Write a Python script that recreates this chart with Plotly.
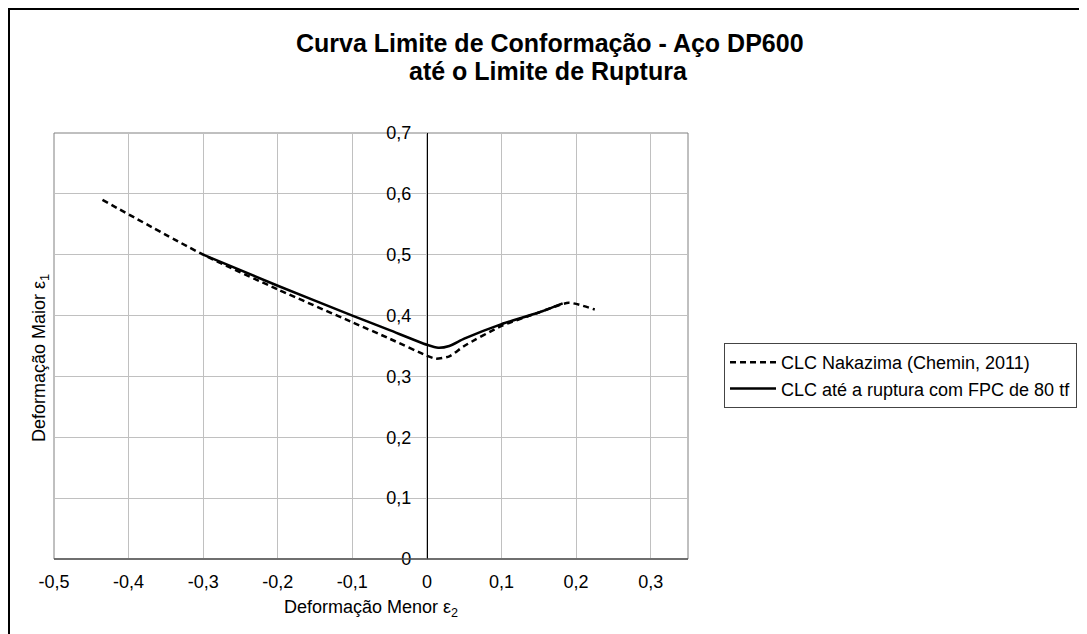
import plotly.graph_objects as go

# ---- data ----
nak_x = [-0.435, -0.3, -0.2, -0.1, -0.05, 0.0, 0.012, 0.03, 0.05, 0.1, 0.15, 0.19, 0.225]
nak_y = [0.590, 0.500, 0.443, 0.389, 0.362, 0.334, 0.329, 0.333, 0.350, 0.383, 0.405, 0.421, 0.410]

rup_x = [-0.3, -0.2, -0.1, -0.05, 0.0, 0.015, 0.03, 0.05, 0.1, 0.15, 0.182]
rup_y = [0.500, 0.449, 0.400, 0.376, 0.352, 0.347, 0.350, 0.362, 0.386, 0.405, 0.420]

series_names = ["CLC Nakazima (Chemin, 2011)", "CLC até a ruptura com FPC de 80 tf"]

xtick_vals = [-0.5, -0.4, -0.3, -0.2, -0.1, 0.0, 0.1, 0.2, 0.3]
xtick_text = ["-0,5", "-0,4", "-0,3", "-0,2", "-0,1", "0", "0,1", "0,2", "0,3"]
ytick_vals = [0, 0.1, 0.2, 0.3, 0.4, 0.5, 0.6, 0.7]
ytick_text = ["0", "0,1", "0,2", "0,3", "0,4", "0,5", "0,6", "0,7"]

title_1 = "Curva Limite de Conformação - Aço DP600"
title_2 = "até o Limite de Ruptura"
x_title = "Deformação Menor ε<sub>2</sub>"
y_title = "Deformação Maior ε<sub>1</sub>"

X_RANGE = [-0.5, 0.35]
Y_RANGE = [0, 0.7]

FONT = "Arial, 'Liberation Sans', sans-serif"

# page layout (the figure div sits 8px in from the page corner)
OFF = 8
PAGE_W, PAGE_H = 1087, 634
PL, PR, PT, PB = 54, 688, 133, 559          # plot area edges on the page
W, H = PAGE_W - OFF, PAGE_H - OFF
L, T = PL - OFF, PT - OFF
R, B = W - (PR - OFF), H - (PB - OFF)
PW, PH = PR - PL, PB - PT


def px_x(p):
    return (p - PL) / PW


def px_y(p):
    return (PB - p) / PH


fig = go.Figure()
fig.add_trace(go.Scatter(
    x=nak_x, y=nak_y, mode="lines", name=series_names[0], legendgroup="a",
    line=dict(color="black", width=2.5, dash="6px,4px", shape="spline", smoothing=0.6),
))
fig.add_trace(go.Scatter(
    x=rup_x, y=rup_y, mode="lines", name=series_names[1], legendgroup="b",
    line=dict(color="black", width=2.5, shape="spline", smoothing=0.6),
))

y_pos = (0 - X_RANGE[0]) / (X_RANGE[1] - X_RANGE[0])

fig.update_layout(
    width=W, height=H,
    margin=dict(l=L, r=R, t=T, b=B, autoexpand=False),
    paper_bgcolor="white", plot_bgcolor="white",
    font=dict(family=FONT, size=18, color="black"),
    showlegend=True,
    legend=dict(
        x=px_x(724), y=px_y(343), xanchor="left", yanchor="top",
        bordercolor="#444444", borderwidth=1, bgcolor="white",
        font=dict(family=FONT, size=18, color="black"),
        itemwidth=46, tracegroupgap=6, traceorder="normal",
    ),
    xaxis=dict(
        range=X_RANGE, tickvals=xtick_vals, ticktext=xtick_text,
        showgrid=True, gridcolor="#c0c0c0", gridwidth=1,
        zeroline=False, showline=False, ticks="", ticklabelstandoff=10,
        tickfont=dict(family=FONT, size=18, color="black"),
        fixedrange=True,
    ),
    yaxis=dict(
        range=Y_RANGE, tickvals=ytick_vals, ticktext=ytick_text,
        anchor="free", position=y_pos,
        showgrid=True, gridcolor="#c0c0c0", gridwidth=1,
        zeroline=False, showline=True, linecolor="black", linewidth=1, ticks="",
        ticklabelstandoff=12,
        tickfont=dict(family=FONT, size=18, color="black"),
        fixedrange=True,
    ),
    shapes=[
        # plot area border
        dict(type="rect", xref="paper", yref="paper", x0=0, x1=1, y0=0, y1=1,
             line=dict(color="#808080", width=1), layer="below"),
        # x axis line (y = 0)
        dict(type="line", xref="paper", yref="paper", x0=0, x1=1, y0=0, y1=0,
             line=dict(color="#555555", width=1.5)),
        # outer chart border
        dict(type="rect", xref="paper", yref="paper",
             x0=px_x(9), x1=px_x(1085), y0=px_y(700), y1=px_y(9),
             line=dict(color="black", width=2)),
    ],
    annotations=[
        dict(text="<b>" + title_1 + "</b>", xref="paper", yref="paper",
             x=px_x(550), y=px_y(43), xanchor="center", yanchor="middle",
             showarrow=False, font=dict(family=FONT, size=25, color="black")),
        dict(text="<b>" + title_2 + "</b>", xref="paper", yref="paper",
             x=px_x(548), y=px_y(71), xanchor="center", yanchor="middle",
             showarrow=False, font=dict(family=FONT, size=25, color="black")),
        dict(text=x_title, xref="paper", yref="paper",
             x=px_x(371), y=px_y(608), xanchor="center", yanchor="middle",
             showarrow=False, font=dict(family=FONT, size=18, color="black")),
        dict(text=y_title, xref="paper", yref="paper", textangle=-90,
             x=px_x(40), y=px_y(358), xanchor="center", yanchor="middle",
             showarrow=False, font=dict(family=FONT, size=18, color="black")),
    ],
)

fig.write_html("out.html")
